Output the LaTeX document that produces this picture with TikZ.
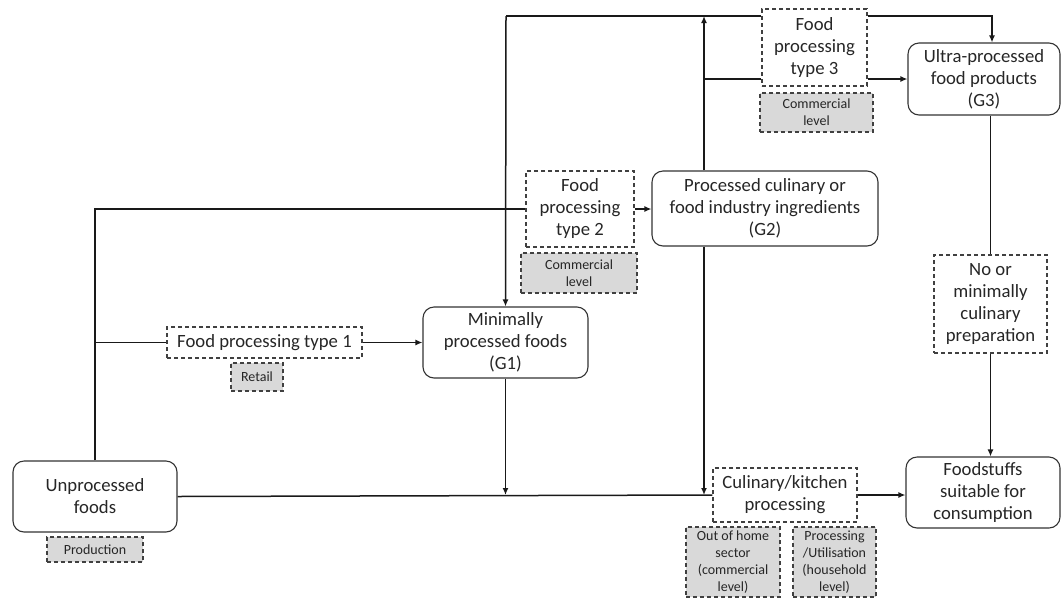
\documentclass[tikz,border=0pt]{standalone}
\usepackage{fontspec}
\setmainfont{Carlito}
\usepackage{xcolor}
\usetikzlibrary{arrows.meta}

\begin{document}
\begin{tikzpicture}
[
	x=1pt, y=-1pt,
	grp/.style={draw=black!80, line width=1.1pt, rounded corners=11pt, align=center, inner sep=0pt, font=\fontsize{18.7}{22}\selectfont, text=black!85},
	proc/.style={draw=black!75, line width=1.1pt, dash pattern=on 4pt off 3pt, align=center, inner sep=0pt, font=\fontsize{18.7}{22}\selectfont, text=black!85},
	lvl/.style={proc, fill=black!15, font=\fontsize{14}{17}\selectfont},
	link/.style={line width=1.5pt, color=black!90},
	arr/.style={link, -{Latex[length=7pt,width=6pt]}}
]

\useasboundingbox (0,0) rectangle (1062,598);

% Food groups
\node[grp, minimum width=164pt, minimum height=71pt] (unproc) at (95,496.5) {Unprocessed\\foods};
\node[grp, minimum width=165pt, minimum height=71pt] (g1) at (505.5,342.5) {Minimally\\processed foods\\(G1)};
\node[grp, minimum width=226pt, minimum height=75pt] (g2) at (765,208.5) {Processed culinary or\\food industry ingredients\\(G2)};
\node[grp, minimum width=152pt, minimum height=72pt] (g3) at (984,79) {Ultra-processed\\food products\\(G3)};
\node[grp, minimum width=154pt, minimum height=71pt] (food) at (983,492.5) {Foodstuffs\\suitable for\\consumption};

% Processing steps
\node[proc, minimum width=195pt, minimum height=31pt] (fp1) at (264.5,342.5) {Food processing type 1};
\node[proc, minimum width=108pt, minimum height=76pt] (fp2) at (580,209) {Food\\processing\\type 2};
\node[proc, minimum width=105pt, minimum height=77pt] (fp3) at (814.5,47.5) {Food\\processing\\type 3};
\node[proc, minimum width=113pt, minimum height=98pt] (nomin) at (990.5,304) {No or\\minimally\\culinary\\preparation};
\node[proc, minimum width=144pt, minimum height=54pt] (cul) at (785,495) {Culinary/kitchen\\processing};

% Levels
\node[lvl, minimum width=96pt, minimum height=25pt] (prod) at (95,549.5) {Production};
\node[lvl, minimum width=52pt, minimum height=28pt] (retail) at (257,377) {Retail};
\node[lvl, minimum width=116pt, minimum height=40pt] (com2) at (579,273) {Commercial\\level};
\node[lvl, minimum width=113pt, minimum height=39pt] (com3) at (816.5,112.5) {Commercial\\level};
\node[lvl, minimum width=94pt, minimum height=70pt] (ooh) at (733,562) {Out of home\\sector\\(commercial\\level)};
\node[lvl, minimum width=83pt, minimum height=70pt] (hh) at (834.5,562) {Processing\\/Utilisation\\(household\\level)};

% Junctions
\coordinate (lv) at (95,209);
\coordinate (lb) at (95,342.5);
\coordinate (tl) at (506,16);
\coordinate (jt) at (704,16);
\coordinate (j3) at (704,79);
\coordinate (tr) at (992,16);

% Left branch
\draw[link] (unproc.north) -- (lv) -- (fp2.west |- lv);
\draw[link] (lb) -- (fp1.west);
\draw[arr] (fp1.east) -- (g1.west);
\draw[arr] (fp2.east) -- (g2.west |- fp2.east);

% Top line
\draw[link] (fp3.west |- tl) -- (tl);
\draw[arr] (tl) -- (g1.north);
\draw[arr] (jt |- g2.north) -- (jt);
\draw[link] (j3) -- (fp3.west |- j3);
\draw[arr] (fp3.east |- j3) -- (g3.west |- j3);
\draw[arr] (fp3.east |- tr) -- (tr) -- (tr |- g3.north);

% Right column
\draw[link] (nomin.north |- g3.south) -- (nomin.north);
\draw[arr] (nomin.south) -- (nomin.south |- food.north);

% Bottom line
\draw[link] (unproc.east) -- (cul.west);
\draw[arr] (g1.south) -- (g1.south |- cul.west);
\draw[arr] (jt |- g2.south) -- (jt |- cul.west);
\draw[arr] (cul.east) -- (food.west |- cul.east);

\end{tikzpicture}
\end{document}
